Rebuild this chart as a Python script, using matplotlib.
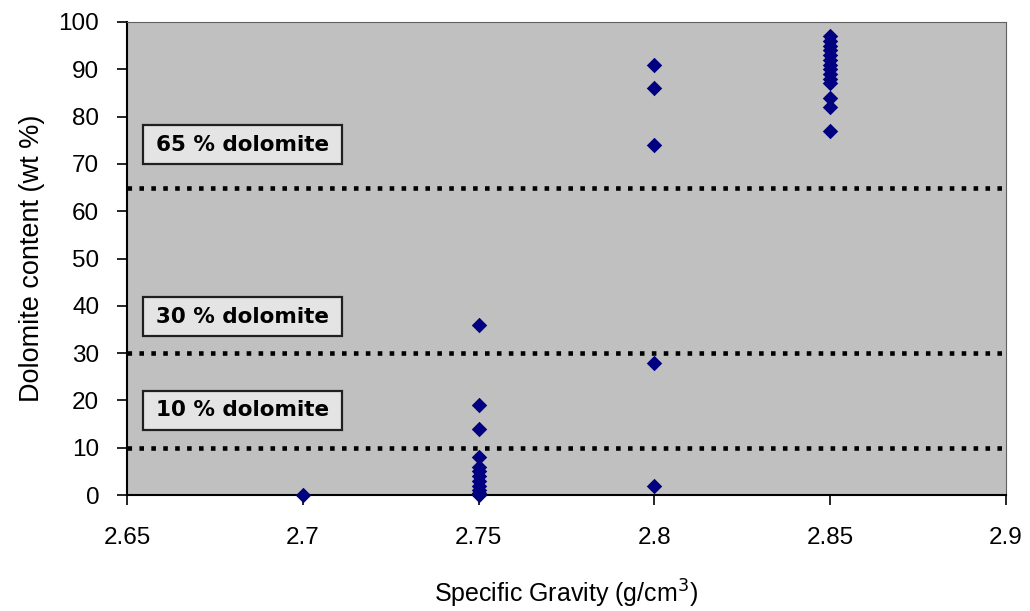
import matplotlib
matplotlib.use("Agg")
import matplotlib.pyplot as plt
from matplotlib.patches import Rectangle

sg_270 = [2.7]
dol_270 = [0]
sg_275 = [2.75] * 12
dol_275 = [36, 19, 14, 8, 6, 5, 4, 3, 2, 1, 0.5, 0]
sg_280 = [2.8] * 5
dol_280 = [91, 86, 74, 28, 2]
sg_285 = [2.85] * 14
dol_285 = [97, 96, 95, 94, 93, 92, 91, 90, 89, 88, 87, 84, 82, 77]

thresholds = [65, 30, 10]
labels = ["65 % dolomite", "30 % dolomite", "10 % dolomite"]
label_y = [74, 37.7, 17.9]

xticks = [2.65, 2.7, 2.75, 2.8, 2.85, 2.9]
xticklabels = ["2.65", "2.7", "2.75", "2.8", "2.85", "2.9"]
yticks = list(range(0, 101, 10))

plt.rcParams['font.family'] = ['Liberation Sans', 'DejaVu Sans']

fig = plt.figure(figsize=(10.3, 6.11), dpi=100)
L, R, T, B = 127, 1006, 22, 495
ax = fig.add_axes([L/1030, 1 - B/611, (R-L)/1030, (B-T)/611])
ax.set_facecolor('#c0c0c0')

xs = sg_270 + sg_275 + sg_280 + sg_285
ys = dol_270 + dol_275 + dol_280 + dol_285
ax.scatter(xs, ys, marker='D', s=62, color='#000080', zorder=3, clip_on=False, linewidths=0)

for t in thresholds:
    ax.axhline(t, color='black', lw=3.3, linestyle=(0, (1, 1.6)), zorder=2)

bx0, bx1 = 2.6546, 2.7111
bh = 8.25
for lab, y in zip(labels, label_y):
    ax.add_patch(Rectangle((bx0, y - bh/2), bx1 - bx0, bh, facecolor='#e4e4e4',
                           edgecolor='#202020', lw=1.6, zorder=4))
    ax.text((bx0 + bx1)/2, y, lab, fontsize=15.5, fontweight='bold', va='center', ha='center',
            family=['DejaVu Sans'], zorder=5)

ax.set_xlim(2.65, 2.9)
ax.set_ylim(0, 100)
ax.set_xticks(xticks)
ax.set_xticklabels(xticklabels)
ax.set_yticks(yticks)
ax.tick_params(axis='both', labelsize=17.5, direction='out', length=7, width=1.2, colors='black')
ax.tick_params(axis='x', pad=16)
ax.tick_params(axis='y', pad=13)
for s in ['top', 'right']:
    ax.spines[s].set_color('#606060')
for s in ['left', 'bottom']:
    ax.spines[s].set_color('black')
    ax.spines[s].set_linewidth(1.5)

ax.set_xlabel('Specific Gravity (g/cm$^3$)', fontsize=18, labelpad=21)
ax.set_ylabel('Dolomite content (wt %)', fontsize=19.5, labelpad=10)

fig.savefig('out.png', dpi=100, facecolor='white')
